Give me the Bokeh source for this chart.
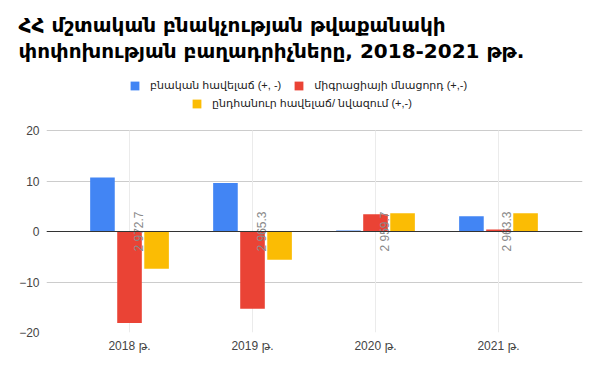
from bokeh.plotting import figure
from bokeh.models import (Legend, LegendItem, Title, Span, FixedTicker, ColumnDataSource, Range1d)
from bokeh.core.properties import value
from bokeh.embed import file_html
from bokeh.resources import INLINE

years = ["2018 թ.", "2019 թ.", "2020 թ.", "2021 թ."]
natural = [10.7, 9.6, 0.2, 3.0]
migration = [-18.1, -15.3, 3.4, 0.4]
total = [-7.4, -5.6, 3.6, 3.6]
population = ["2 972.7", "2 965.3", "2 959.7", "2 963.3"]
series_names = ["բնական հավելաճ (+, -)", "միգրացիայի մնացորդ (+,-)", "ընդհանուր հավելաճ/ նվազում (+,-)"]
colors = ["#4285F4", "#EA4335", "#FBBC04"]
y_ticks = [-20, -10, 0, 10, 20]
y_min, y_max = -20, 20

pos = list(range(len(years)))
FONT = "Liberation Sans, DejaVu Sans"
TFONT = "DejaVu Sans"

# frame extends above the top gridline to hold the legend rows
y_top = y_max + (130 - 62) * (y_max - y_min) / 202.0

p = figure(width=584, height=355, output_backend="svg", toolbar_location=None,
           x_range=Range1d(-0.675, 3.683), y_range=Range1d(y_min, y_top),
           min_border_left=46, min_border_right=2, min_border_bottom=23,
           min_border_top=62)
p.title.visible = False
p.outline_line_color = None
p.xgrid.visible = False
p.ygrid.grid_line_color = "#cccccc"
p.ygrid.ticker = FixedTicker(ticks=y_ticks)

# vertical category grid lines limited to the value range
p.segment(x0=pos, y0=[y_min] * len(pos), x1=pos, y1=[y_max] * len(pos),
          line_color="#ebebeb", line_width=1)

renderers = []
for i, (vals, name, c) in enumerate(zip([natural, migration, total], series_names, colors)):
    off = (i - 1) * 0.22
    src = ColumnDataSource(dict(x=[q + off for q in pos], top=vals))
    r = p.vbar(x="x", top="top", bottom=0, width=0.2, source=src, fill_color=c, line_color=None)
    renderers.append(r)

zero = Span(location=0, dimension="width", line_color="#333333", line_width=1)
p.add_layout(zero)

lab_src = ColumnDataSource(dict(x=pos, y=[0] * len(pos), t=population))
p.text(x="x", y="y", text="t", source=lab_src, angle=1.5708, text_align="center",
       text_baseline="top", x_offset=2, text_font_size="12px", text_color="#8a8a8a",
       text_font=value(FONT))

p.xaxis.ticker = FixedTicker(ticks=pos)
p.xaxis.major_label_overrides = {q: y for q, y in zip(pos, years)}
p.yaxis.ticker = FixedTicker(ticks=y_ticks)
for ax in (p.xaxis, p.yaxis):
    ax.axis_line_color = None
    ax.major_tick_line_color = None
    ax.minor_tick_line_color = None
    ax.major_tick_out = 0
    ax.major_tick_in = 0
    ax.major_label_text_font_size = "12px"
    ax.major_label_text_color = "#444444"
    ax.major_label_text_font = FONT
p.xaxis.major_label_standoff = 6
p.yaxis.major_label_standoff = 7

leg1 = Legend(items=[LegendItem(label=series_names[0], renderers=[renderers[0]]),
                     LegendItem(label=series_names[1], renderers=[renderers[1]])],
              location=(83, 240))
leg2 = Legend(items=[LegendItem(label=series_names[2], renderers=[renderers[2]])],
              location=(145, 222))
for lg in (leg1, leg2):
    lg.orientation = "horizontal"
    lg.border_line_color = None
    lg.background_fill_alpha = 0
    lg.glyph_width = 11
    lg.glyph_height = 11
    lg.label_standoff = 10
    lg.spacing = 12
    lg.padding = 0
    lg.margin = 0
    lg.label_text_font_size = "11px"
    lg.label_text_color = "#222222"
    lg.label_text_font = FONT
    lg.label_height = 11
    p.add_layout(lg, "center")

t2 = Title(text="փոփոխության բաղադրիչները, 2018-2021 թթ.", text_font_size="20px",
           text_font_style="bold", text_color="#000000", text_font=TFONT, offset=-28, standoff=0)
t1 = Title(text="ՀՀ մշտական բնակչության թվաքանակի", text_font_size="20px",
           text_font_style="bold", text_color="#000000", text_font=TFONT, offset=-28, standoff=0)
p.add_layout(t2, "above")
p.add_layout(t1, "above")

open("out.html", "w").write(file_html(p, INLINE))
